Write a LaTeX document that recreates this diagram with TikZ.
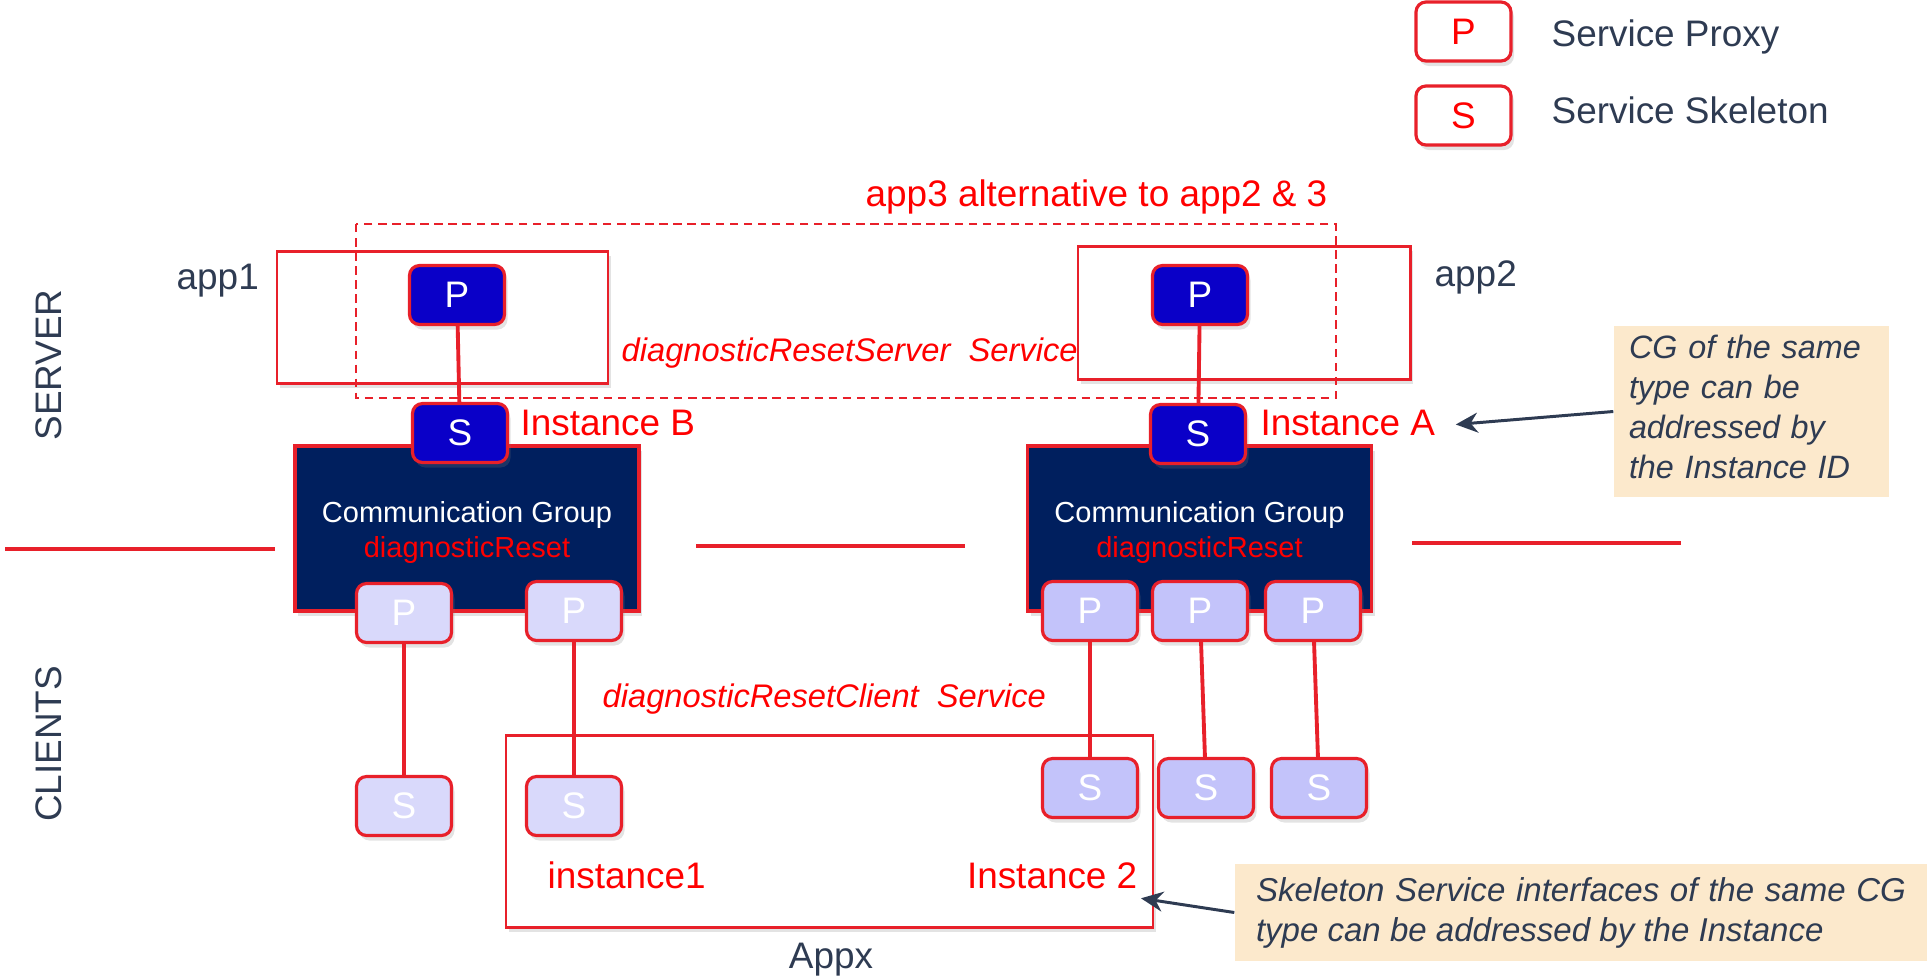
\documentclass[tikz,border=0pt]{standalone}
\usepackage{fontspec}
\setmainfont{Liberation Sans}
\usepackage{tikz}
\usetikzlibrary{arrows.meta,shadows}
\usepackage{xcolor}

\definecolor{lred}{HTML}{E8202A}
\definecolor{pred}{HTML}{FF0000}
\definecolor{dblue}{HTML}{0A00C8}
\definecolor{navy}{HTML}{001F5E}
\definecolor{lav}{HTML}{D9D9FB}
\definecolor{lavB}{HTML}{C3C3FA}
\definecolor{slate}{HTML}{2E3B52}
\definecolor{peach}{HTML}{FCE9CC}

\begin{document}
\begin{tikzpicture}[font=\fontsize{10.5}{12.6}\selectfont,
  soft/.style={drop shadow={shadow xshift=0.03cm, shadow yshift=-0.05cm, opacity=0.22}},
  cell/.style={draw=lred, line width=0.9pt, rounded corners=0.1cm, minimum width=0.95cm,
    minimum height=0.59cm, inner sep=0pt, soft},
  srv/.style={cell, fill=dblue, text=white},
  cliP/.style={cell, fill=lav, text=white},
  cliPB/.style={cell, fill=lavB, text=white},
  key/.style={cell, fill=white, text=pred},
  cg/.style={draw=lred, line width=0.9pt, fill=navy, text=white, minimum width=3.44cm,
    minimum height=1.65cm, align=center, font=\fontsize{8.25}{9.7}\selectfont, soft},
  frame/.style={draw=lred, line width=0.85pt, fill=white, soft},
  link/.style={draw=lred, line width=1.1pt},
  sep/.style={draw=lred, line width=1.2pt},
  lbl/.style={text=pred, inner sep=0pt},
  svc/.style={text=pred, inner sep=0pt, font=\fontsize{9.3}{11}\selectfont\itshape},
  dark/.style={text=slate, inner sep=0pt},
  note/.style={fill=peach, text=slate, inner sep=0pt, font=\fontsize{9.2}{11.4}\selectfont\itshape},
  pointer/.style={draw=slate, line width=0.85pt, -{Stealth[length=2.2mm,width=2mm]}}]
\useasboundingbox (0,0) rectangle (19.27,-9.78);

\begin{scope}
  %% Legend
  \node[key] (keyP) at (14.635,-0.315) {P};
  \node[key] (keyS) at (14.635,-1.155) {S};
  \node[dark, anchor=base west] (keyPtxt) at (15.51,-0.46) {Service Proxy};
  \node[dark, anchor=base west] (keyStxt) at (15.51,-1.23) {Service Skeleton};

  %% Side captions
  \node[dark, rotate=90] (server) at (0.49,-3.65) {SERVER};
  \node[dark, rotate=90] (clients) at (0.49,-7.44) {CLIENTS};

  %% Separator lines
  \draw[sep] (0.05,-5.49) -- (2.75,-5.49);
  \draw[sep] (6.96,-5.46) -- (9.65,-5.46);
  \draw[sep] (14.12,-5.43) -- (16.81,-5.43);

  %% Application frames
  \draw[frame] (2.77,-2.51) rectangle (6.08,-3.83);
  \draw[frame] (10.78,-2.46) rectangle (14.10,-3.79);
  \draw[lred, line width=0.6pt, dash pattern=on 2.4pt off 1.6pt] (3.56,-2.24) rectangle (13.36,-3.98);
  \draw[frame] (5.06,-7.35) rectangle (11.53,-9.27);

  \node[lbl, anchor=base west] (alt) at (8.65,-2.06) {app3 alternative to app2 \& 3};
  \node[dark, anchor=base west] (app1) at (1.76,-2.89) {app1};
  \node[dark, anchor=base west] (app2) at (14.34,-2.86) {app2};
  \node[dark, anchor=base] (appx) at (8.31,-9.68) {Appx};

  %% Communication groups
  \node[cg] (cgB) at (4.67,-5.285) {\rule{0pt}{0.29cm}Communication Group\\\textcolor{pred}{diagnosticReset}};
  \node[cg] (cgA) at (11.995,-5.285) {\rule{0pt}{0.29cm}Communication Group\\\textcolor{pred}{diagnosticReset}};

  %% Server side
  \node[srv] (pB) at (4.57,-2.95) {P};
  \node[srv] (sB) at (4.60,-4.33) {S};
  \node[srv] (pA) at (12.00,-2.95) {P};
  \node[srv] (sA) at (11.98,-4.34) {S};
  \draw[link] (pB) -- (sB);
  \draw[link] (pA) -- (sA);

  \node[svc, anchor=base west] (srvsvc) at (6.21,-3.61) {diagnosticResetServer\ \ Service};
  \node[lbl, anchor=base west] (instB) at (5.20,-4.35) {Instance B};
  \node[lbl, anchor=base west] (instA) at (12.60,-4.35) {Instance A};

  %% Client side
  \foreach \n/\x/\py/\sy in {1/4.04/6.13/8.06, 2/5.74/6.11/8.06}{
    \node[cliP] (cpB\n) at (\x,-\py) {P};
    \node[cliP] (csB\n) at (\x,-\sy) {S};
    \draw[link] (cpB\n) -- (csB\n);
  }
  \foreach \n/\px/\sx in {1/10.90/10.90, 2/12.00/12.06, 3/13.13/13.19}{
    \node[cliPB] (cpA\n) at (\px,-6.11) {P};
    \node[cliPB] (csA\n) at (\sx,-7.88) {S};
    \draw[link] (cpA\n) -- (csA\n);
  }

  \node[svc, anchor=base west] (clisvc) at (6.02,-7.07) {diagnosticResetClient\ \ Service};
  \node[lbl, anchor=base west] (inst1) at (5.47,-8.88) {instance1};
  \node[lbl, anchor=base east] (inst2) at (11.38,-8.88) {Instance 2};

  %% Notes
  \node[note, minimum width=2.75cm, minimum height=1.71cm, text width=2.45cm, align=left]
    (cgnote) at (17.515,-4.115) {CG of the same\\type can be\\addressed by\\the Instance ID\rule[-0.09cm]{0pt}{0pt}};
  \node[note, minimum width=6.92cm, minimum height=0.97cm, text width=6.5cm, align=justify]
    (skelnote) at (15.81,-9.125) {\fontsize{9.4}{11.4}\selectfont Skeleton Service interfaces of the same CG type can be addressed by the Instance};
  \draw[pointer] (cgnote.west) -- ([xshift=2mm,yshift=-0.2mm]instA.east);
  \draw[pointer] (skelnote.west) -- ([xshift=0.3mm,yshift=-2.3mm]inst2.east);
\end{scope}
\end{tikzpicture}
\end{document}
